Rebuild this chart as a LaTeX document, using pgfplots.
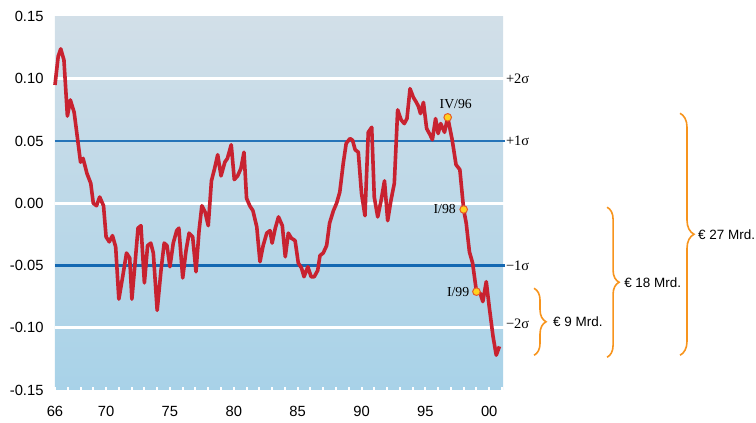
\documentclass[border=0pt]{standalone}
\usepackage{fontspec}
\setmainfont{Liberation Sans}
\newfontfamily\serif{Liberation Serif}
\usepackage{pgfplots}
\pgfplotsset{compat=1.18}
\usetikzlibrary{decorations.pathreplacing}
\definecolor{bgtop}{RGB}{210,223,232}
\definecolor{bgbot}{RGB}{168,210,232}
\definecolor{linered}{RGB}{200,34,48}
\definecolor{blueA}{RGB}{38,116,184}
\definecolor{blueB}{RGB}{20,104,178}
\definecolor{braceor}{RGB}{247,148,29}
\definecolor{mkfill}{RGB}{255,210,30}
\definecolor{mkedge}{RGB}{230,90,40}
\begin{document}
\begin{tikzpicture}
\path[use as bounding box] (0,0) rectangle (756bp,423bp);
\begin{axis}[
  at={(55bp,33bp)}, anchor=south west,
  scale only axis, width=448bp, height=373.5bp,
  xmin=66, xmax=101.08, ymin=-0.15, ymax=0.15,
  clip=false,
  axis line style={draw=none},
  axis background/.style={shade, top color=bgtop, bottom color=bgbot},
  ytick={-0.15,-0.10,-0.05,0,0.05,0.10,0.15},
  yticklabels={-0.15,-0.10,-0.05,0.00,0.05,0.10,0.15},
  ytick style={draw=none},
  xtick={66,70,75,80,85,90,95,100},
  xticklabels={66,70,75,80,85,90,95,00},
  minor xtick={67,68,69,71,72,73,74,76,77,78,79,81,82,83,84,86,87,88,89,91,92,93,94,96,97,98,99,101},
  xtick pos=left,
  tick align=inside,
  major tick length=3bp, minor tick length=3bp,
  xtick style={draw=white, line width=2pt},
  minor x tick style={draw=white, line width=2pt},
  ticklabel style={font=\fontsize{14.8}{16}\selectfont},
  yticklabel style={xshift=-8bp},
  xticklabel style={yshift=-13bp},
]
\draw[white, line width=2.7bp] (axis cs:66,0.10) -- (axis cs:101.2,0.10);
\draw[white, line width=2.7bp] (axis cs:66,0.00) -- (axis cs:101.2,0.00);
\draw[white, line width=2.7bp] (axis cs:66,-0.10) -- (axis cs:101.2,-0.10);
\draw[blueA, line width=1.5bp] (axis cs:66,0.05) -- (axis cs:101.2,0.05);
\draw[blueB, line width=2.7bp] (axis cs:66,-0.05) -- (axis cs:101.2,-0.05);

\addplot[linered, line width=3.6bp, line join=round, mark=none] coordinates {
(66.0,0.095) (66.25,0.118) (66.45,0.124) (66.7,0.115) (66.97,0.070) (67.2,0.083)
(67.5,0.073) (67.75,0.053) (68.0,0.033) (68.2,0.036) (68.5,0.024) (68.8,0.016)
(69.0,0.000) (69.25,-0.002) (69.5,0.005) (69.8,-0.002) (70.0,-0.027) (70.25,-0.031)
(70.5,-0.026) (70.75,-0.035) (71.0,-0.077) (71.3,-0.059) (71.6,-0.040) (71.85,-0.044)
(72.02,-0.077) (72.27,-0.048) (72.5,-0.020) (72.73,-0.018) (73.0,-0.064) (73.25,-0.034)
(73.5,-0.032) (73.7,-0.040) (74.0,-0.086) (74.3,-0.054) (74.55,-0.032) (74.77,-0.034)
(75.0,-0.051) (75.26,-0.032) (75.53,-0.022) (75.7,-0.020) (76.0,-0.060) (76.26,-0.038)
(76.5,-0.024) (76.78,-0.027) (77.04,-0.055) (77.28,-0.022) (77.5,-0.002) (77.75,-0.007)
(78.0,-0.018) (78.25,0.018) (78.5,0.028) (78.74,0.039) (79.0,0.022) (79.3,0.033)
(79.5,0.036) (79.8,0.047) (80.04,0.019) (80.3,0.022) (80.56,0.028) (80.8,0.041)
(81.0,0.004) (81.25,-0.002) (81.5,-0.006) (81.8,-0.019) (82.05,-0.047) (82.3,-0.034)
(82.58,-0.024) (82.84,-0.022) (83.0,-0.032) (83.25,-0.020) (83.5,-0.011) (83.8,-0.018)
(84.03,-0.043) (84.27,-0.024) (84.5,-0.028) (84.8,-0.030) (85.05,-0.048) (85.3,-0.052)
(85.5,-0.059) (85.8,-0.051) (86.05,-0.059) (86.3,-0.059) (86.57,-0.054) (86.75,-0.042)
(87.0,-0.040) (87.27,-0.034) (87.5,-0.016) (87.8,-0.006) (88.05,0.000) (88.3,0.009)
(88.57,0.032) (88.8,0.048) (89.1,0.052) (89.3,0.0506) (89.5,0.043) (89.75,0.041)
(90.0,0.008) (90.27,-0.010) (90.53,0.057) (90.8,0.061) (91.0,0.005) (91.27,-0.011)
(91.53,0.002) (91.8,0.018) (92.05,-0.014) (92.3,0.002) (92.57,0.016) (92.83,0.075)
(93.1,0.067) (93.35,0.064) (93.56,0.068) (93.8,0.092) (94.06,0.085) (94.3,0.081)
(94.45,0.078) (94.62,0.072) (94.85,0.081) (95.1,0.060) (95.37,0.055) (95.55,0.051)
(95.8,0.068) (96.0,0.056) (96.2,0.064) (96.5,0.057) (96.75,0.069) (97.1,0.051)
(97.4,0.031) (97.7,0.027) (98.0,-0.005) (98.2,-0.016) (98.45,-0.039) (98.7,-0.048)
(99.0,-0.071) (99.3,-0.0725) (99.5,-0.079) (99.77,-0.063) (100.0,-0.083) (100.3,-0.107)
(100.55,-0.122) (100.8,-0.115)
};
\addplot[only marks, mark=*, mark size=3.8bp, mark options={fill=mkfill, draw=mkedge, line width=1bp}]
 coordinates {(96.75,0.069) (98.0,-0.005) (99.0,-0.071)};

\node[font=\serif\fontsize{13.8}{15}\selectfont, inner sep=0pt] at (axis cs:97.38,0.0795) {IV/96};
\node[font=\serif\fontsize{13.8}{15}\selectfont, inner sep=0pt, anchor=east] at (axis cs:97.4,-0.005) {I/98};
\node[font=\serif\fontsize{13.8}{15}\selectfont, inner sep=0pt, anchor=east] at (axis cs:98.45,-0.071) {I/99};

\node[font=\serif\fontsize{14.5}{16}\selectfont, inner sep=0pt, anchor=west] at (axis cs:101.3,0.10) {+2σ};
\node[font=\serif\fontsize{14.5}{16}\selectfont, inner sep=0pt, anchor=west] at (axis cs:101.3,0.05) {+1σ};
\node[font=\serif\fontsize{14.5}{16}\selectfont, inner sep=0pt, anchor=west] at (axis cs:101.3,-0.05) {−1σ};
\node[font=\serif\fontsize{14.5}{16}\selectfont, inner sep=0pt, anchor=west] at (axis cs:101.3,-0.097) {−2σ};

\draw[braceor, line width=1.6bp, decorate, decoration={brace, amplitude=12bp}] (axis cs:103.51,-0.0683) -- (axis cs:103.51,-0.1221);
\draw[braceor, line width=1.6bp, decorate, decoration={brace, amplitude=12bp}] (axis cs:109.23,-0.0032) -- (axis cs:109.23,-0.1237);
\draw[braceor, line width=1.6bp, decorate, decoration={brace, amplitude=14bp}] (axis cs:114.94,0.0723) -- (axis cs:114.94,-0.1221);

\node[font=\fontsize{13.5}{15}\selectfont, inner sep=0pt, anchor=west, xshift=19bp] at (axis cs:103.51,-0.0952) {€ 9 Mrd.};
\node[font=\fontsize{13.5}{15}\selectfont, inner sep=0pt, anchor=west, xshift=17bp] at (axis cs:109.23,-0.0635) {€ 18 Mrd.};
\node[font=\fontsize{13.5}{15}\selectfont, inner sep=0pt, anchor=west, xshift=18bp] at (axis cs:114.94,-0.0249) {€ 27 Mrd.};
\end{axis}
\end{tikzpicture}
\end{document}
